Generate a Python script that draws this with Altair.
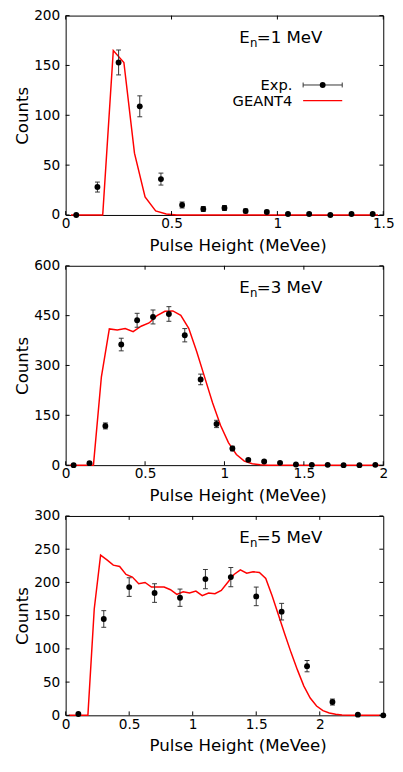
import altair as alt
import pandas as pd

FONT = "DejaVu Sans"

# ---------------- Panel 1: En = 1 MeV ----------------
exp1_x = [0.05, 0.15, 0.25, 0.35, 0.45, 0.55, 0.65, 0.75, 0.85, 0.95, 1.05, 1.15, 1.25, 1.35, 1.45]
exp1_y = [0, 28, 153, 109, 36, 10, 6, 7, 4, 3, 1, 1, 0, 1, 1]
exp1_err = [0.5, 5, 12.5, 10.5, 6, 3, 2.5, 2.5, 2, 1.7, 1, 1, 0.5, 1, 1]
sim1_x = [0.025, 0.075, 0.125, 0.175, 0.225, 0.275, 0.325, 0.375, 0.425, 0.475,
          0.525, 0.575, 0.625, 0.675, 0.725, 0.775, 0.825, 0.875, 0.925, 0.975,
          1.025, 1.075, 1.125, 1.175, 1.225, 1.275, 1.325, 1.375, 1.425, 1.475]
sim1_y = [0, 0, 0, 0, 165, 153, 62, 18, 4, 1,
          0, 0, 0, 0, 0, 0, 0, 0, 0, 0,
          0, 0, 0, 0, 0, 0, 0, 0, 0, 0]
x1_ticks = [0, 0.5, 1, 1.5]
y1_ticks = [0, 50, 100, 150, 200]

# ---------------- Panel 2: En = 3 MeV ----------------
exp2_x = [0.05, 0.15, 0.25, 0.35, 0.45, 0.55, 0.65, 0.75, 0.85, 0.95,
          1.05, 1.15, 1.25, 1.35, 1.45, 1.55, 1.65, 1.75, 1.85, 1.95]
exp2_y = [0, 6, 118, 363, 436, 446, 455, 391, 258, 124, 50, 16, 11, 7, 2, 1, 1, 0, 0, 1]
exp2_err = [1, 2.5, 9, 19, 21, 21, 22, 20, 16, 11, 7, 4, 3.3, 2.6, 1.4, 1, 1, 0.5, 0.5, 1]
sim2_x = [0.025, 0.075, 0.125, 0.175, 0.225, 0.275, 0.325, 0.375, 0.425, 0.475,
          0.525, 0.575, 0.625, 0.675, 0.725, 0.775, 0.825, 0.875, 0.925, 0.975,
          1.025, 1.075, 1.125, 1.175, 1.225, 1.275, 1.325, 1.375, 1.425, 1.475,
          1.525, 1.575, 1.625, 1.675, 1.725, 1.775, 1.825, 1.875, 1.925, 1.975]
sim2_y = [0, 0, 0, 0, 266, 410, 407, 411, 402, 418,
          428, 450, 463, 464, 451, 412, 342, 265, 188, 120,
          68, 32, 12, 4, 1, 0, 0, 0, 0, 0,
          0, 0, 0, 0, 0, 0, 0, 0, 0, 0]
x2_ticks = [0, 0.5, 1, 1.5, 2]
y2_ticks = [0, 150, 300, 450, 600]

# ---------------- Panel 3: En = 5 MeV ----------------
exp3_x = [0.1, 0.3, 0.5, 0.7, 0.9, 1.1, 1.3, 1.5, 1.7, 1.9, 2.1, 2.3, 2.5]
exp3_y = [2, 145, 193, 184, 177, 205, 208, 179, 156, 74, 20, 1, 0]
exp3_err = [1, 12.5, 14, 14, 13, 14.5, 14.5, 14, 12.5, 8.5, 4.5, 1, 0.5]
sim3_x = [0.025, 0.075, 0.125, 0.175, 0.225, 0.275, 0.325, 0.375, 0.425, 0.475,
          0.525, 0.575, 0.625, 0.675, 0.725, 0.775, 0.825, 0.875, 0.925, 0.975,
          1.025, 1.075, 1.125, 1.175, 1.225, 1.275, 1.325, 1.375, 1.425, 1.475,
          1.525, 1.575, 1.625, 1.675, 1.725, 1.775, 1.825, 1.875, 1.925, 1.975,
          2.025, 2.075, 2.125, 2.175, 2.225, 2.275, 2.325, 2.375, 2.425, 2.475]
sim3_y = [0, 0, 0, 0, 160, 241, 234, 226, 224, 212,
          208, 198, 200, 193, 193, 193, 189, 182, 186, 184,
          187, 180, 184, 183, 188, 200, 212, 219, 214, 216,
          215, 206, 180, 151, 122, 94, 68, 44, 26, 14,
          7, 3.5, 1.5, 0.5, 0, 0, 0, 0, 0, 0]
x3_ticks = [0, 0.5, 1, 1.5, 2]
y3_ticks = [0, 50, 100, 150, 200, 250, 300]

W, H = 325, 204
TICK = 4
ERR_COLOR = "#333333"


def panel(ex, ey, ee, sx, sy, xmax, ymax, xticks, yticks, energy, legend=False):
    xs = alt.Scale(domain=[0, xmax], nice=False, zero=False)
    ys = alt.Scale(domain=[0, ymax], nice=False, zero=False)
    xaxis = alt.Axis(values=xticks, format="~g", title="Pulse Height (MeVee)",
                     labelFlush=False, labelOverlap=False, ticks=False, tickSize=0,
                     domain=False, grid=False, labelFontSize=14, labelPadding=2,
                     labelColor="black", titleFontSize=17, titleFontWeight="normal",
                     titlePadding=7, titleX=176, titleColor="black")
    yaxis = alt.Axis(values=yticks, title="Counts", ticks=False, tickSize=0, domain=False,
                     grid=False, labelFontSize=14, labelPadding=6, labelColor="black",
                     labelOverlap=False, titleFontSize=17, titleFontWeight="normal",
                     titlePadding=2, titleColor="black")

    exp = pd.DataFrame({"x": ex, "y": ey,
                        "lo": [a - b for a, b in zip(ey, ee)],
                        "hi": [a + b for a, b in zip(ey, ee)]})
    sim = pd.DataFrame({"x": sx, "y": sy})

    X = lambda f: alt.X(f, scale=xs, axis=xaxis)
    Y = lambda f: alt.Y(f, scale=ys, axis=yaxis)

    line = alt.Chart(sim).mark_line(color="#ff0000", strokeWidth=1.5).encode(
        x=X("x:Q"), y=Y("y:Q"))
    bars = alt.Chart(exp).mark_rule(color=ERR_COLOR, strokeWidth=1).encode(
        x=X("x:Q"), y=Y("lo:Q"), y2="hi:Q")
    cap_lo = alt.Chart(exp).mark_tick(orient="horizontal", size=5, thickness=1,
                                      color=ERR_COLOR, opacity=1).encode(x=X("x:Q"), y=Y("lo:Q"))
    cap_hi = alt.Chart(exp).mark_tick(orient="horizontal", size=5, thickness=1,
                                      color=ERR_COLOR, opacity=1).encode(x=X("x:Q"), y=Y("hi:Q"))
    pts = alt.Chart(exp).mark_circle(color="black", size=36, opacity=1).encode(
        x=X("x:Q"), y=Y("y:Q"))

    ydf = pd.DataFrame({"y": yticks})
    xdf = pd.DataFrame({"x": xticks})
    lt = alt.Chart(ydf).mark_rule(color="black", strokeWidth=1).encode(
        y=Y("y:Q"), x=alt.value(0), x2=alt.value(TICK))
    rt = alt.Chart(ydf).mark_rule(color="black", strokeWidth=1).encode(
        y=Y("y:Q"), x=alt.value(W), x2=alt.value(W - TICK))
    bt = alt.Chart(xdf).mark_rule(color="black", strokeWidth=1).encode(
        x=X("x:Q"), y=alt.value(H), y2=alt.value(H - TICK))
    tt = alt.Chart(xdf).mark_rule(color="black", strokeWidth=1).encode(
        x=X("x:Q"), y=alt.value(0), y2=alt.value(TICK))

    one = pd.DataFrame({"a": [0]})
    t_e = alt.Chart(one).mark_text(text="E", font=FONT, fontSize=17, align="left",
                                   baseline="alphabetic", color="black").encode(
        x=alt.value(177.5), y=alt.value(28))
    t_n = alt.Chart(one).mark_text(text="n", font=FONT, fontSize=12, align="left",
                                   baseline="alphabetic", color="black").encode(
        x=alt.value(188.5), y=alt.value(32))
    t_r = alt.Chart(one).mark_text(text=f"={energy} MeV", font=FONT, fontSize=17,
                                   align="left", baseline="alphabetic", color="black").encode(
        x=alt.value(195.5), y=alt.value(28))

    layers = [line, bars, cap_lo, cap_hi, pts, lt, rt, bt, tt, t_e, t_n, t_r]

    if legend:
        ly1, ly2 = 71, 87
        l_t1 = alt.Chart(one).mark_text(text="Exp.", font=FONT, fontSize=15, align="right",
                                        baseline="middle", color="black").encode(
            x=alt.value(232), y=alt.value(ly1))
        l_t2 = alt.Chart(one).mark_text(text="GEANT4", font=FONT, fontSize=15, align="right",
                                        baseline="middle", color="black").encode(
            x=alt.value(232), y=alt.value(ly2))
        l_bar = alt.Chart(one).mark_rule(color=ERR_COLOR, strokeWidth=1).encode(
            x=alt.value(243), x2=alt.value(283), y=alt.value(ly1))
        l_c1 = alt.Chart(one).mark_rule(color=ERR_COLOR, strokeWidth=1).encode(
            x=alt.value(243), y=alt.value(ly1 - 2.5), y2=alt.value(ly1 + 2.5))
        l_c2 = alt.Chart(one).mark_rule(color=ERR_COLOR, strokeWidth=1).encode(
            x=alt.value(283), y=alt.value(ly1 - 2.5), y2=alt.value(ly1 + 2.5))
        l_dot = alt.Chart(one).mark_circle(color="black", size=36, opacity=1).encode(
            x=alt.value(263), y=alt.value(ly1))
        l_line = alt.Chart(one).mark_rule(color="#ff0000", strokeWidth=1.5).encode(
            x=alt.value(243), x2=alt.value(283), y=alt.value(ly2))
        layers += [l_t1, l_t2, l_bar, l_c1, l_c2, l_dot, l_line]

    return alt.layer(*layers).properties(width=W, height=H)


p1 = panel(exp1_x, exp1_y, exp1_err, sim1_x, sim1_y, 1.5, 200, x1_ticks, y1_ticks, 1, legend=True)
p2 = panel(exp2_x, exp2_y, exp2_err, sim2_x, sim2_y, 2.0, 600, x2_ticks, y2_ticks, 3)
p3 = panel(exp3_x, exp3_y, exp3_err, sim3_x, sim3_y, 2.5, 300, x3_ticks, y3_ticks, 5)

chart = alt.vconcat(p1, p2, p3, spacing=4).properties(
    padding={"left": 5, "top": -9, "right": 0, "bottom": 0}).configure(
    font=FONT).configure_view(stroke="black", strokeWidth=1)

chart.save("out.html", embed_options={"renderer": "svg", "actions": False})
